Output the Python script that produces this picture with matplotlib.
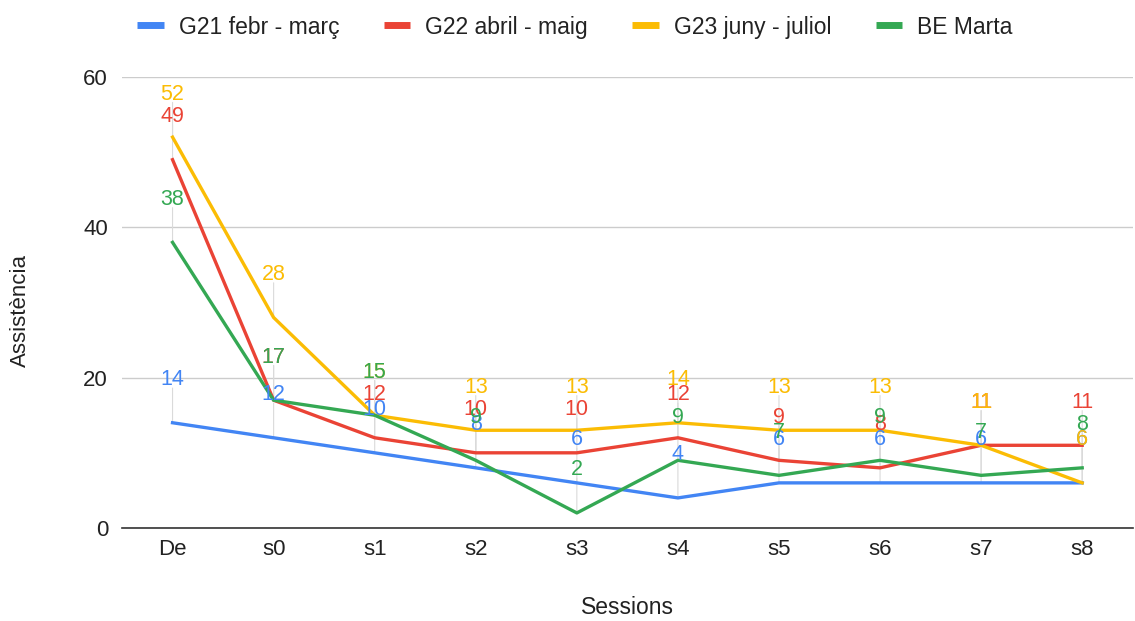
import matplotlib
matplotlib.use("Agg")
import matplotlib.pyplot as plt

categories = ["De", "s0", "s1", "s2", "s3", "s4", "s5", "s6", "s7", "s8"]
g21 = [14, 12, 10, 8, 6, 4, 6, 6, 6, 6]
g22 = [49, 17, 12, 10, 10, 12, 9, 8, 11, 11]
g23 = [52, 28, 15, 13, 13, 14, 13, 13, 11, 6]
be_marta = [38, 17, 15, 9, 2, 9, 7, 9, 7, 8]
series_names = ["G21 febr - març", "G22 abril - maig", "G23 juny - juliol", "BE Marta"]
colors = ["#4285F4", "#EA4335", "#FBBC04", "#34A853"]

plt.rcParams['font.family'] = ['Liberation Sans', 'DejaVu Sans']

fig = plt.figure(figsize=(11.35, 6.21), dpi=100)
ax = fig.add_axes([0.1075, 0.1498, 0.8905, 0.7262])

x = list(range(len(categories)))
all_series = [g21, g22, g23, be_marta]

# leader lines first
for vals in all_series:
    for xi, v in zip(x, vals):
        ax.annotate("", xy=(xi, v), xytext=(0, 25), textcoords="offset points",
                    arrowprops=dict(arrowstyle="-", color="#dadada", lw=0.8,
                                    shrinkA=0, shrinkB=0),
                    annotation_clip=False, zorder=1)

for vals, name, c in zip(all_series, series_names, colors):
    ax.plot(x, vals, color=c, lw=2.4, label=name, zorder=3, solid_joinstyle='round')

for vals, c in zip(all_series, colors):
    for xi, v in zip(x, vals):
        ax.annotate(str(v), xy=(xi, v), xytext=(0, 31), textcoords="offset points",
                    ha="center", va="center", color=c, fontsize=15.5,
                    annotation_clip=False, zorder=4)

ax.set_xlim(-0.5, 9.5)
ax.set_ylim(0, 60)
ax.set_yticks([0, 20, 40, 60])
ax.set_xticks(x)
ax.set_xticklabels(categories)
ax.tick_params(axis='both', length=0, labelsize=16, colors="#222222")
ax.tick_params(axis='x', pad=8)
ax.tick_params(axis='y', pad=10)
ax.yaxis.grid(True, color="#cccccc", lw=1)
ax.set_axisbelow(True)
for s in ["top", "right", "left"]:
    ax.spines[s].set_visible(False)
ax.spines["bottom"].set_color("#333333")
ax.spines["bottom"].set_linewidth(1.2)
ax.spines["bottom"].set_zorder(5)

fig.text(0.553, 1 - 608 / 621, "Sessions", ha="center", va="center",
         fontsize=16.5, color="#222222")
fig.text(0.018, 0.5, "Assistència", rotation=90, ha="center", va="center",
         fontsize=16, color="#222222")

handles = [plt.Line2D([0], [0], color=c, lw=5, solid_capstyle='butt') for c in colors]
fig.legend(handles, series_names, loc="center", bbox_to_anchor=(0.5066, 0.9565), ncol=4,
           frameon=False, fontsize=16.5, handlelength=1.15, handletextpad=0.65,
           columnspacing=1.95, labelcolor="#222222")

fig.savefig("out.png", dpi=100)
